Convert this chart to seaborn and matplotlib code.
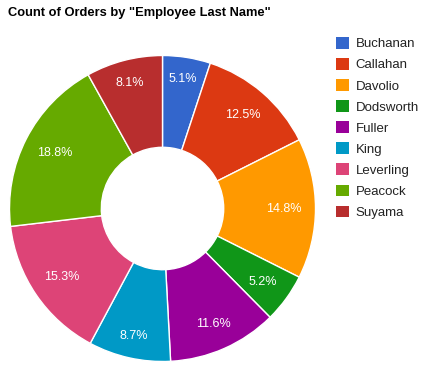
import matplotlib
matplotlib.use("Agg")
import numpy as np
import matplotlib.pyplot as plt
import matplotlib.patches as mpatches
import seaborn as sns

sns.set_style("white")
plt.rcParams['font.family'] = ['Liberation Sans', 'DejaVu Sans']

names = ["Buchanan", "Callahan", "Davolio", "Dodsworth", "Fuller", "King",
         "Leverling", "Peacock", "Suyama"]
orders = [42, 104, 123, 43, 96, 72, 127, 156, 67]
colors = ["#3366cc", "#dc3912", "#ff9900", "#109618", "#990099", "#0099c6",
          "#dd4477", "#66aa00", "#b82e2e"]
title = 'Count of Orders by "Employee Last Name"'

W, H = 426, 374
fig = plt.figure(figsize=(W / 100, H / 100), dpi=100)
cx, cy, R = 162.5, 208.5, 153
ax = fig.add_axes([(cx - R) / W, (H - cy - R) / H, 2 * R / W, 2 * R / H])

wedges, texts, autotexts = ax.pie(
    orders, colors=colors, startangle=90, counterclock=False, radius=1,
    autopct="%.1f%%", pctdistance=0.8,
    wedgeprops=dict(width=0.6, edgecolor="white", linewidth=1),
    textprops=dict(color="white", fontsize=9))
ax.set_xlim(-1, 1)
ax.set_ylim(-1, 1)
ax.set_aspect("equal")
ax.axis("off")

# place labels so that the outer corner of each label box sits inside the ring
fig.canvas.draw()
renderer = fig.canvas.get_renderer()
D = 139.0
for w, t in zip(wedges, autotexts):
    ang = np.deg2rad((w.theta1 + w.theta2) / 2)
    ux, uy = np.cos(ang), np.sin(ang)
    bb = t.get_window_extent(renderer)
    tw, th = bb.width, bb.height * 0.85
    a, b = abs(ux), abs(uy)
    k = a * tw + b * th
    r = (-k + np.sqrt(k * k - 4 * ((tw * tw + th * th) / 4 - D * D))) / 2
    t.set_position((r / R * ux, r / R * uy))
    t.set_ha("center")
    t.set_va("center")

fig.text(8 / W, 1 - 16 / H, title, fontsize=9.3, fontweight="bold",
         va="baseline", ha="left", color="#000000")

handles = [mpatches.Patch(facecolor=c, edgecolor="none") for c in colors]
leg = fig.legend(handles, names, loc="upper left",
                 bbox_to_anchor=(336 / W, 1 - 37 / H), frameon=False,
                 fontsize=9.5, handlelength=1.0, handleheight=1.0,
                 handletextpad=0.5, labelspacing=0.58, borderpad=0,
                 borderaxespad=0)
for t in leg.get_texts():
    t.set_color("#222222")

fig.savefig("out.png", dpi=100)
